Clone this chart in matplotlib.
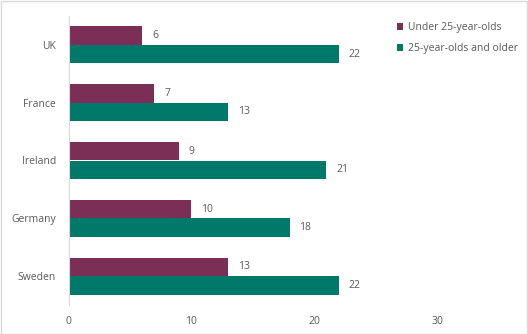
import matplotlib
matplotlib.use("Agg")
import matplotlib.pyplot as plt
import numpy as np
from matplotlib.patches import Rectangle

countries = ["UK", "France", "Ireland", "Germany", "Sweden"]
under_25 = [6, 7, 9, 10, 13]
over_25 = [22, 13, 21, 18, 22]
series_names = ["Under 25-year-olds", "25-year-olds and older"]
x_ticks = [0, 10, 20, 30]

c_under = "#7B2F57"
c_over = "#00796A"
text_col = "#595959"

plt.rcParams["font.family"] = ["Open Sans", "DejaVu Sans"]

fig = plt.figure(figsize=(5.28, 3.34), dpi=100)
ax = fig.add_axes([68.5 / 528, 1 - 305 / 334, (437 - 68.5) / 528, (305 - 16) / 334])

y = np.arange(len(countries))
h = 0.32
b1 = ax.barh(y - h / 2, under_25, height=h, color=c_under, label=series_names[0])
b2 = ax.barh(y + h / 2, over_25, height=h, color=c_over, label=series_names[1])

for bars, vals in ((b1, under_25), (b2, over_25)):
    for bar, v in zip(bars, vals):
        ax.annotate(f"{v}", (bar.get_width(), bar.get_y() + bar.get_height() / 2),
                    xytext=(7, 0), textcoords="offset points", va="center", ha="left",
                    fontsize=7.5, color=text_col)

ax.set_xlim(0, 30)
ax.set_ylim(len(countries) - 0.5, -0.5)
ax.set_xticks(x_ticks)
ax.set_yticks(y)
ax.set_yticklabels(countries)
ax.tick_params(axis="both", length=0, labelsize=7.5, labelcolor=text_col)
ax.tick_params(axis="y", pad=9)
ax.tick_params(axis="x", pad=8)
for s in ("top", "right", "bottom"):
    ax.spines[s].set_visible(False)
ax.spines["left"].set_color("#D9D9D9")
ax.spines["left"].set_linewidth(0.8)

leg = fig.legend(handles=[b1, b2], loc="upper left", bbox_to_anchor=(393 / 528, 1 - 18 / 334),
                 frameon=False, fontsize=7.5, handlelength=0.6, handleheight=0.6,
                 handletextpad=0.4, labelspacing=0.95, borderaxespad=0)
for t in leg.get_texts():
    t.set_color(text_col)

fig.patches.append(Rectangle((0.5 / 528, 0.5 / 334), 526.5 / 528, 332.5 / 334,
                             transform=fig.transFigure, fill=False,
                             edgecolor="#D9D9D9", linewidth=1))

fig.savefig("out.png", dpi=100)
